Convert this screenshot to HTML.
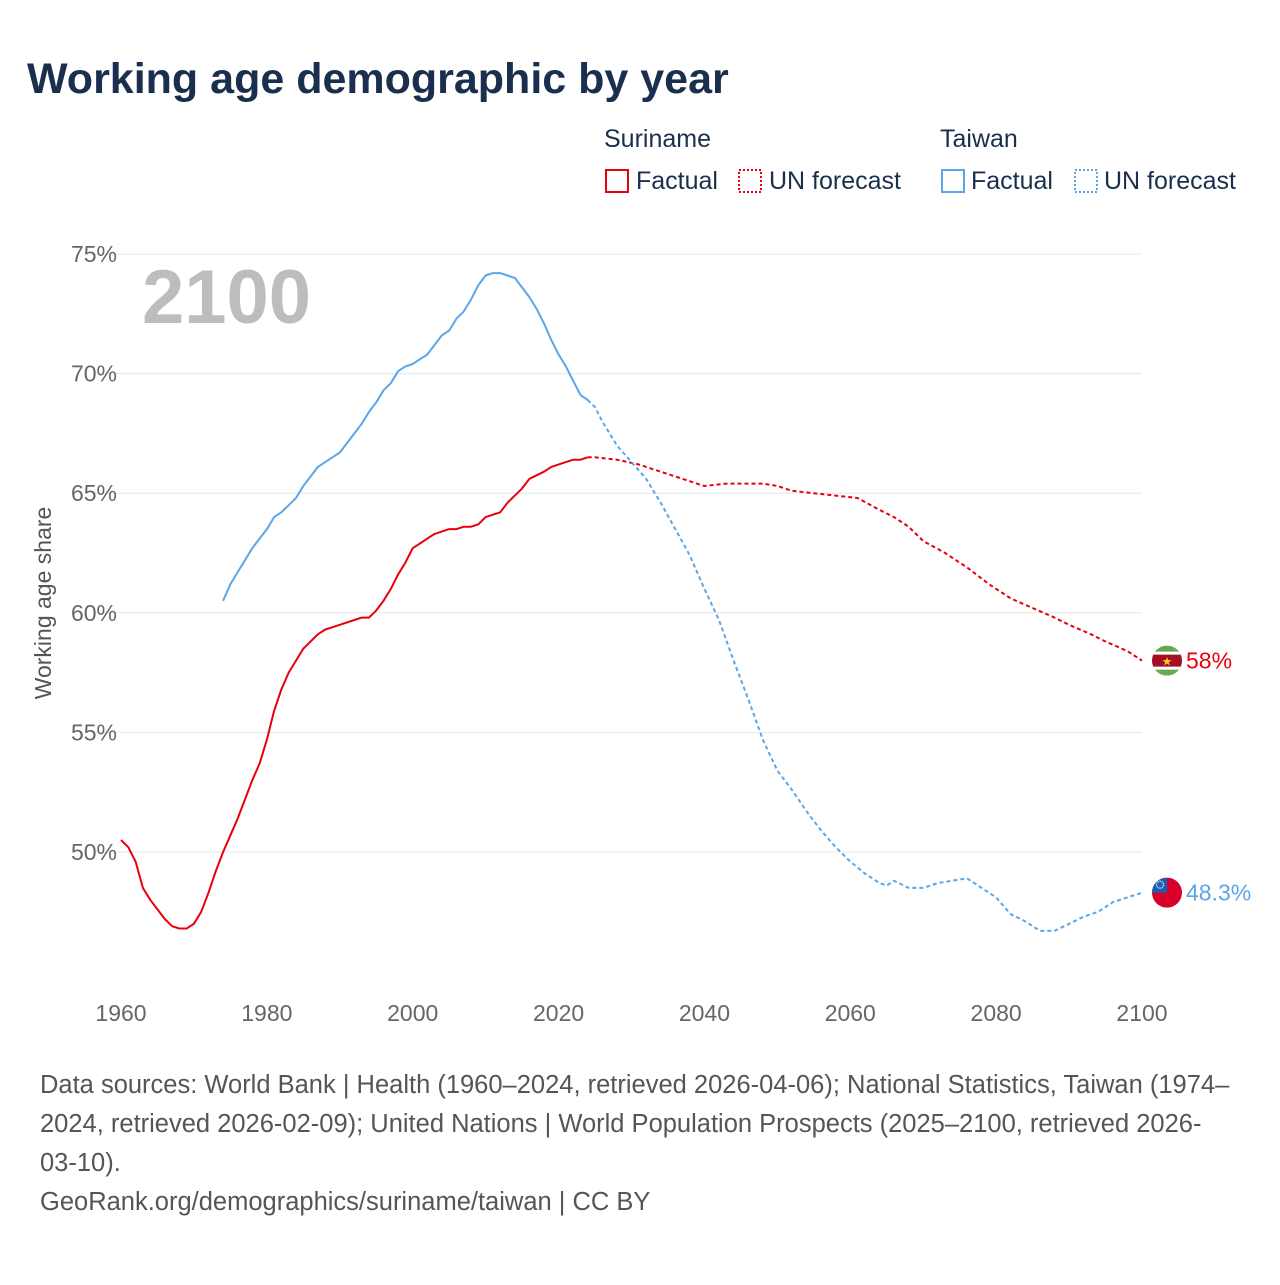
<!DOCTYPE html>
<html><head><meta charset="utf-8"><style>
body{margin:0;background:#fff;width:1280px;height:1280px;overflow:hidden;font-family:"Liberation Sans",sans-serif}
</style></head><body>
<svg id="chart" width="1280" height="1280" xmlns="http://www.w3.org/2000/svg">
<text x="27" y="93" font-size="43" font-weight="bold" fill="#1a2f4d">Working age demographic by year</text>
<g font-size="25" fill="#1a2f4d">
<text x="604" y="147">Suriname</text>
<text x="940" y="147">Taiwan</text>
<rect x="606" y="170" width="22" height="22" fill="none" stroke="#e8000b" stroke-width="2"/>
<text x="636" y="189">Factual</text>
<rect x="739" y="170" width="22" height="22" fill="none" stroke="#e8000b" stroke-width="2" stroke-dasharray="2,2"/>
<text x="769" y="189">UN forecast</text>
<rect x="942" y="170" width="22" height="22" fill="none" stroke="#5aa6e8" stroke-width="2"/>
<text x="971" y="189">Factual</text>
<rect x="1075" y="170" width="22" height="22" fill="none" stroke="#5aa6e8" stroke-width="2" stroke-dasharray="2,2"/>
<text x="1104" y="189">UN forecast</text>
</g>
<text x="142" y="323" font-size="76" font-weight="bold" fill="#bdbdbd">2100</text>
<text transform="translate(51,603) rotate(-90)" text-anchor="middle" font-size="23" fill="#555">Working age share</text>
<g id="grid"></g><g id="series"></g>
<g font-size="25.5" fill="#555">
<text x="40" y="1093">Data sources: World Bank | Health (1960–2024, retrieved 2026-04-06); National Statistics, Taiwan (1974–</text>
<text x="40" y="1132">2024, retrieved 2026-02-09); United Nations | World Population Prospects (2025–2100, retrieved 2026-</text>
<text x="40" y="1171">03-10).</text>
<text x="40" y="1210">GeoRank.org/demographics/suriname/taiwan | CC BY</text>
</g>
</svg>
<script>
const xTicks=[1960,1980,2000,2020,2040,2060,2080,2100];
const yTicks=[50,55,60,65,70,75];
const surYears=[1960,1961,1962,1963,1964,1965,1966,1967,1968,1969,1970,1971,1972,1973,1974,1975,1976,1977,1978,1979,1980,1981,1982,1983,1984,1985,1986,1987,1988,1989,1990,1992,1993,1994,1995,1996,1997,1998,1999,2000,2001,2002,2003,2005,2006,2007,2008,2009,2010,2012,2013,2015,2016,2018,2019,2021,2022,2023,2024];
const surVals=[50.5,50.2,49.6,48.5,48.0,47.6,47.2,46.9,46.8,46.8,47.0,47.5,48.3,49.2,50.0,50.7,51.4,52.2,53.0,53.7,54.7,55.9,56.8,57.5,58.0,58.5,58.8,59.1,59.3,59.4,59.5,59.7,59.8,59.8,60.1,60.5,61.0,61.6,62.1,62.7,62.9,63.1,63.3,63.5,63.5,63.6,63.6,63.7,64.0,64.2,64.6,65.2,65.6,65.9,66.1,66.3,66.4,66.4,66.5];
const surFYears=[2024,2025,2028,2031,2033,2036,2040,2043,2048,2050,2052,2055,2058,2061,2064,2066,2068,2070,2073,2076,2079,2082,2085,2088,2090,2093,2095,2098,2100];
const surFVals=[66.5,66.5,66.4,66.2,66.0,65.7,65.3,65.4,65.4,65.3,65.1,65.0,64.9,64.8,64.3,64.0,63.6,63.0,62.5,61.9,61.2,60.6,60.2,59.8,59.5,59.1,58.8,58.4,58.0];
const twYears=[1974,1975,1976,1977,1978,1979,1980,1981,1982,1983,1984,1985,1986,1987,1988,1989,1990,1991,1992,1993,1994,1995,1996,1997,1998,1999,2000,2001,2002,2003,2004,2005,2006,2007,2008,2009,2010,2011,2012,2013,2014,2015,2016,2017,2018,2019,2020,2021,2022,2023,2024];
const twVals=[60.5,61.2,61.7,62.2,62.7,63.1,63.5,64.0,64.2,64.5,64.8,65.3,65.7,66.1,66.3,66.5,66.7,67.1,67.5,67.9,68.4,68.8,69.3,69.6,70.1,70.3,70.4,70.6,70.8,71.2,71.6,71.8,72.3,72.6,73.1,73.7,74.1,74.2,74.2,74.1,74.0,73.6,73.2,72.7,72.1,71.4,70.8,70.3,69.7,69.1,68.9];
const twFYears=[2024,2025,2026,2027,2028,2030,2032,2034,2036,2038,2040,2042,2044,2046,2048,2050,2052,2054,2056,2058,2060,2062,2064,2065,2066,2068,2070,2072,2074,2076,2078,2080,2082,2084,2086,2088,2090,2092,2094,2096,2098,2100];
const twFVals=[68.9,68.6,68.0,67.5,67.0,66.3,65.6,64.6,63.5,62.4,61.0,59.7,58.0,56.4,54.7,53.4,52.6,51.7,50.9,50.2,49.6,49.1,48.7,48.6,48.8,48.5,48.5,48.7,48.8,48.9,48.5,48.1,47.4,47.1,46.7,46.7,47.0,47.3,47.5,47.9,48.1,48.3];
const endLabels=["58%","48.3%"];
const X=y=>121+(y-1960)*(1142-121)/140;
const Y=v=>852-(v-50)*(852-254)/25;
const NS="http://www.w3.org/2000/svg";
function mk(tag,attrs,parent){const e=document.createElementNS(NS,tag);for(const k in attrs)e.setAttribute(k,attrs[k]);parent.appendChild(e);return e;}
const grid=document.getElementById('grid'),ser=document.getElementById('series');
yTicks.forEach(t=>{
 const l=mk('line',{x1:95,x2:1142,y1:Y(t),y2:Y(t),stroke:'#e6e6e6','stroke-width':1},grid);
 
 
 const tx=mk('text',{x:117,y:Y(t)+8,'text-anchor':'end','font-size':23,fill:'#666'},grid);
 tx.textContent=t+'%';
 
 
});
xTicks.forEach(t=>{
 const tx=mk('text',{x:X(t),y:1021,'text-anchor':'middle','font-size':23,fill:'#666'},grid);
 tx.textContent=t;
 
 
});
function line(xs,vs,col,dash,name){
 const d=xs.map((x,i)=>(i?'L':'M')+X(x).toFixed(1)+','+Y(vs[i]).toFixed(1)).join('');
 const p=mk('path',{d:d,fill:'none',stroke:col,'stroke-width':2,'stroke-linejoin':'round'},ser);
 if(dash)p.setAttribute('stroke-dasharray','4,3');
 
 
}
line(surYears,surVals,'#e8000b',false,'suriname-factual-line');
line(surFYears,surFVals,'#e8000b',true,'suriname-forecast-line');
line(twYears,twVals,'#5aa6e8',false,'taiwan-factual-line');
line(twFYears,twFVals,'#5aa6e8',true,'taiwan-forecast-line');
const sy=Y(surFVals[surFVals.length-1]), ty=Y(twFVals[twFVals.length-1]);
const fx=1167;
const defs=mk('defs',{},ser);
const c1=mk('clipPath',{id:'c1'},defs);mk('circle',{cx:fx,cy:sy,r:15},c1);
const c2=mk('clipPath',{id:'c2'},defs);mk('circle',{cx:fx,cy:ty,r:15},c2);
const g1=mk('g',{'clip-path':'url(#c1)'},ser);


mk('rect',{x:fx-15,y:sy-15,width:30,height:30,fill:'#6aa84f'},g1);
mk('rect',{x:fx-15,y:sy-9,width:30,height:18,fill:'#fff'},g1);
mk('rect',{x:fx-15,y:sy-6,width:30,height:12,fill:'#a50f25'},g1);
const st=mk('text',{x:fx,y:sy+5,'text-anchor':'middle','font-size':12,fill:'#f7c92f'},g1);st.textContent='★';
const g2=mk('g',{'clip-path':'url(#c2)'},ser);


mk('rect',{x:fx-15,y:ty-15,width:30,height:30,fill:'#d7002a'},g2);
mk('rect',{x:fx-15,y:ty-15,width:15,height:15,fill:'#1b5fb5'},g2);
mk('circle',{cx:fx-7,cy:ty-8,r:3.5,fill:'none',stroke:'#fff','stroke-width':1.3,'stroke-dasharray':'1,1'},g2);
const l1=mk('text',{x:1186,y:sy+8,'font-size':23,fill:'#e8000b'},ser);l1.textContent=endLabels[0];


const l2=mk('text',{x:1186,y:ty+8,'font-size':23,fill:'#5aa6e8'},ser);l2.textContent=endLabels[1];


</script>
</body></html>
